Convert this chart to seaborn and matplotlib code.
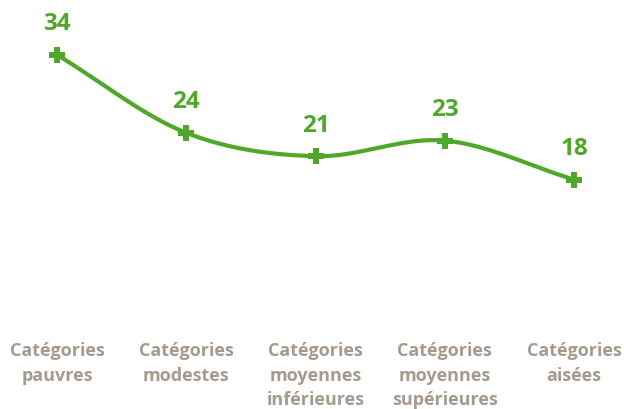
import numpy as np
import matplotlib
matplotlib.use("Agg")
import matplotlib.pyplot as plt
import seaborn as sns

# data
categories = ["Catégories\npauvres", "Catégories\nmodestes", "Catégories\nmoyennes\ninférieures",
              "Catégories\nmoyennes\nsupérieures", "Catégories\naisées"]
values = [34, 24, 21, 23, 18]

GREEN = '#4FA82A'
TICK = '#A69A8F'


def catmull_rom(x, y, n=40):
    """Excel-like smoothed line through the points."""
    x = np.asarray(x, float)
    y = np.asarray(y, float)
    px = np.concatenate([[2 * x[0] - x[1]], x, [2 * x[-1] - x[-2]]])
    py = np.concatenate([[2 * y[0] - y[1]], y, [2 * y[-1] - y[-2]]])
    xs, ys = [], []
    t = np.linspace(0, 1, n)
    for i in range(1, len(px) - 2):
        p0, p1, p2, p3 = (np.array([px[j], py[j]]) for j in range(i - 1, i + 3))
        c1 = p1 + (p2 - p0) / 6
        c2 = p2 - (p3 - p1) / 6
        pts = ((1 - t) ** 3)[:, None] * p1 + (3 * (1 - t) ** 2 * t)[:, None] * c1 \
            + (3 * (1 - t) * t ** 2)[:, None] * c2 + (t ** 3)[:, None] * p2
        xs.extend(pts[:, 0])
        ys.extend(pts[:, 1])
    return np.array(xs), np.array(ys)


sns.set_style("white")
plt.rcParams['font.family'] = ['Open Sans', 'DejaVu Sans']

fig = plt.figure(figsize=(6.24, 4.09), dpi=100)
ax = fig.add_axes([0, 1 - 320 / 409, 1, 312 / 409])

idx = np.arange(len(values))
sx, sy = catmull_rom(idx, values)
sns.lineplot(x=sx, y=sy, ax=ax, color=GREEN, linewidth=3, sort=False)
ax.plot(idx, values, linestyle='none', marker='P', markersize=11,
        color=GREEN, markeredgewidth=0)

for i, v in zip(idx, values):
    ax.annotate(str(v), (i, v), xytext=(0, 22), textcoords='offset points',
                ha='center', va='center', fontsize=17.5, fontweight='bold', color=GREEN)

ax.set_ylim(0, 40)
ax.set_xlim(-57 / 129.25, (624 - 57) / 129.25)
ax.set_xticks(idx)
ax.set_xticklabels(categories, fontsize=13, fontweight='bold', color=TICK,
                   linespacing=1.47)
ax.tick_params(axis='x', length=0, pad=16)
ax.set_yticks([])
for s in ax.spines.values():
    s.set_visible(False)
ax.grid(False)

fig.savefig('out.png', dpi=100)
